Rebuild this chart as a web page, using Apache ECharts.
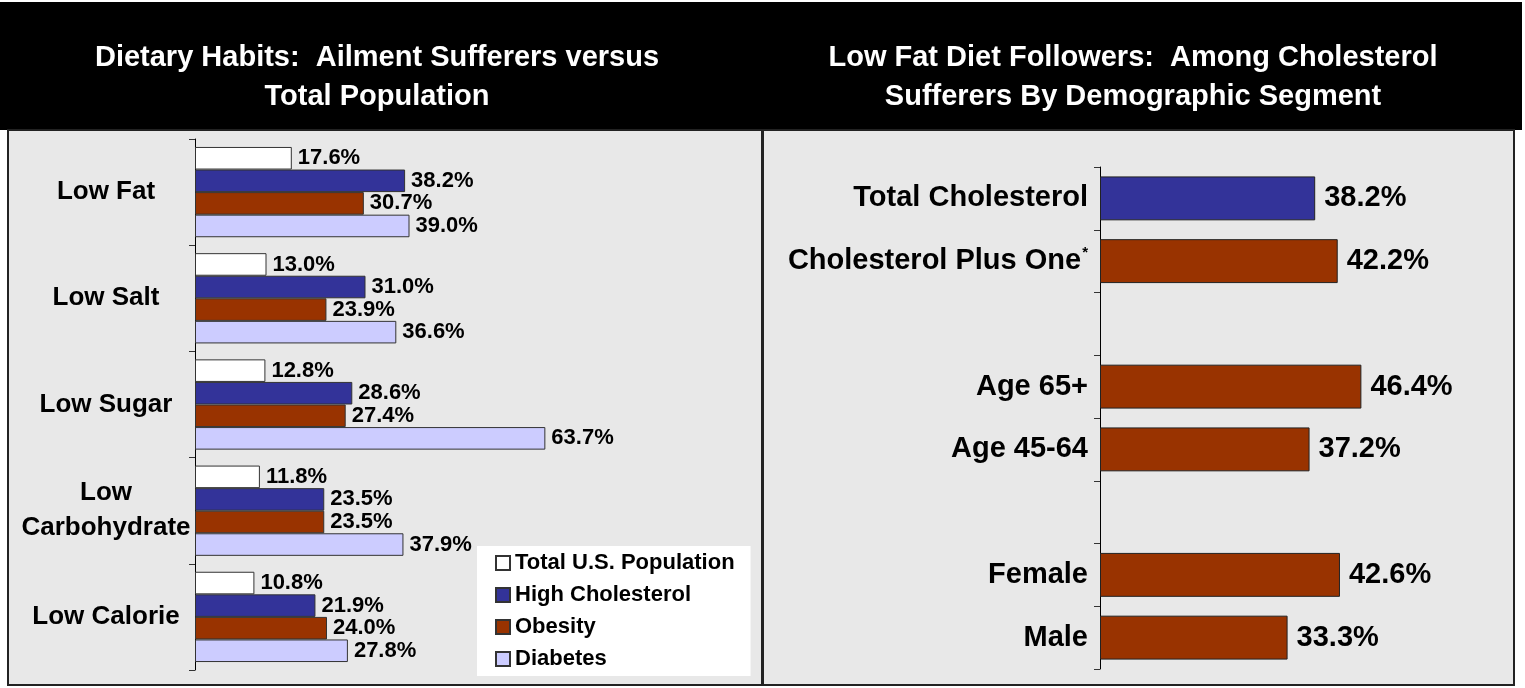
<!DOCTYPE html>
<html>
<head>
<meta charset="utf-8">
<script src="https://cdn.jsdelivr.net/npm/echarts@6/dist/echarts.min.js"></script>
<style>
html,body{margin:0;padding:0;background:#fff;}
#c{width:1525px;height:688px;}
</style>
</head>
<body>
<div id="c"></div>
<script>
// ---- Data ----
const leftTitle = 'Dietary Habits:  Ailment Sufferers versus\nTotal Population';
const rightTitle = 'Low Fat Diet Followers:  Among Cholesterol\nSufferers By Demographic Segment';

const dietCategories = ['Low Fat', 'Low Salt', 'Low Sugar', 'Low Carbohydrate', 'Low Calorie'];
const seriesNames = ['Total U.S. Population', 'High Cholesterol', 'Obesity', 'Diabetes'];
const totalPopulation = [17.6, 13.0, 12.8, 11.8, 10.8];
const highCholesterol = [38.2, 31.0, 28.6, 23.5, 21.9];
const obesity = [30.7, 23.9, 27.4, 23.5, 24.0];
const diabetes = [39.0, 36.6, 63.7, 37.9, 27.8];

const segmentCategories = ['Total Cholesterol', 'Cholesterol Plus One*', ' ', 'Age 65+', 'Age 45-64', '  ', 'Female', 'Male'];
const segmentValues = [38.2, 42.2, null, 46.4, 37.2, null, 42.6, 33.3];

// ---- Styles ----
const FONT = '"Liberation Sans", Arial, Helvetica, sans-serif';
const colors = ['#FFFFFF', '#333399', '#993300', '#CCCCFF'];
const leftValues = [totalPopulation, highCholesterol, obesity, diabetes];

const chart = echarts.init(document.getElementById('c'), null, {renderer: 'canvas'});

const leftSeries = seriesNames.map((name, i) => ({
  name: name,
  type: 'bar',
  xAxisIndex: 0,
  yAxisIndex: 0,
  data: leftValues[i],
  barGap: '0%',
  barCategoryGap: '15%',
  itemStyle: {color: colors[i], borderColor: '#333', borderWidth: 1},
  label: {
    show: true, position: 'right', distance: 6,
    formatter: p => p.value.toFixed(1) + '%',
    fontFamily: FONT, fontWeight: 'bold', fontSize: 22, color: '#000'
  },
  emphasis: {disabled: true},
  animation: false
}));

const option = {
  animation: false,
  textStyle: {fontFamily: FONT},
  graphic: [
    {type: 'rect', z: -10, shape: {x: 0, y: 2, width: 1522, height: 128}, style: {fill: '#000'}},
    {type: 'rect', z: -10, shape: {x: 8, y: 130, width: 754, height: 555}, style: {fill: '#E8E8E8', stroke: '#222', lineWidth: 2}},
    {type: 'rect', z: -10, shape: {x: 763, y: 130, width: 751, height: 555}, style: {fill: '#E8E8E8', stroke: '#222', lineWidth: 2}}
  ],
  title: [
    {text: leftTitle, left: 372, top: 33, textAlign: 'center',
     textStyle: {color: '#fff', fontFamily: FONT, fontWeight: 'bold', fontSize: 29, lineHeight: 39}},
    {text: rightTitle, left: 1128, top: 33, textAlign: 'center',
     textStyle: {color: '#fff', fontFamily: FONT, fontWeight: 'bold', fontSize: 29, lineHeight: 39}}
  ],
  legend: {
    data: seriesNames,
    orient: 'vertical',
    left: 477, top: 546,
    backgroundColor: '#fff',
    padding: [6, 16, 6, 18],
    itemWidth: 14, itemHeight: 14, itemGap: 10,
    icon: 'rect',
    textStyle: {fontFamily: FONT, fontWeight: 'bold', fontSize: 22, lineHeight: 22, color: '#000'},
    selectedMode: false
  },
  grid: [
    {left: 195, top: 139, width: 550, height: 531},
    {left: 1100, top: 167, width: 338, height: 502}
  ],
  xAxis: [
    {gridIndex: 0, type: 'value', min: 0, max: 100, show: false},
    {gridIndex: 1, type: 'value', min: 0, max: 60, show: false}
  ],
  yAxis: [
    {gridIndex: 0, type: 'category', data: dietCategories, inverse: true,
     axisLine: {lineStyle: {color: '#000', width: 1}},
     axisTick: {show: true, length: 6, lineStyle: {color: '#333'}},
     axisLabel: {
       align: 'center', margin: 89,
       formatter: v => v === 'Low Carbohydrate' ? 'Low\nCarbohydrate' : v,
       fontFamily: FONT, fontWeight: 'bold', fontSize: 26, lineHeight: 35, color: '#000'
     }},
    {gridIndex: 1, type: 'category', data: segmentCategories, inverse: true,
     axisLine: {lineStyle: {color: '#000', width: 1}},
     axisTick: {show: true, length: 6, lineStyle: {color: '#333'}},
     axisLabel: {
       margin: 12,
       formatter: v => v.endsWith('*') ? '{a|' + v.slice(0, -1) + '}{s|*}' : '{a|' + v + '}',
       rich: {
         a: {fontFamily: FONT, fontWeight: 'bold', fontSize: 29, color: '#000'},
         s: {fontFamily: FONT, fontWeight: 'bold', fontSize: 15, color: '#000', padding: [0, 0, 16, 1]}
       }
     }}
  ],
  series: leftSeries.concat([{
    name: 'Low Fat Diet Followers',
    type: 'bar',
    xAxisIndex: 1,
    yAxisIndex: 1,
    data: segmentValues,
    barCategoryGap: '30%',
    itemStyle: {
      color: p => p.dataIndex === 0 ? '#333399' : '#993300',
      borderColor: '#222', borderWidth: 1
    },
    label: {
      show: true, position: 'right', distance: 9,
      formatter: p => p.value == null ? '' : p.value.toFixed(1) + '%',
      fontFamily: FONT, fontWeight: 'bold', fontSize: 29, color: '#000'
    },
    emphasis: {disabled: true}
  }])
};

chart.setOption(option);
</script>
</body>
</html>
